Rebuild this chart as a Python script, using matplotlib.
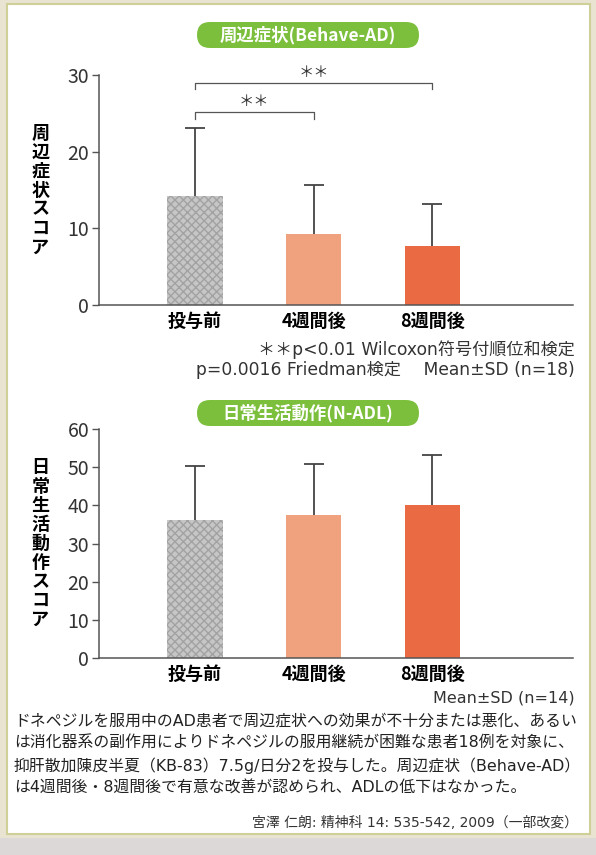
import numpy as np
import matplotlib
matplotlib.use("Agg")
import matplotlib.pyplot as plt
from matplotlib.patches import FancyBboxPatch, Rectangle

plt.rcParams['font.family'] = ['Noto Sans CJK JP', 'DejaVu Sans']
MIXED = ['DejaVu Sans', 'Noto Sans CJK JP']

# データ
groups = ['投与前', '4週間後', '8週間後']
bpsd_mean = [14.25, 9.2, 7.7]
bpsd_sd = [8.85, 6.5, 5.5]
adl_mean = [36.1, 37.5, 40.0]
adl_sd = [14.2, 13.4, 13.2]
bar_colors = ['#c6c6c6', '#f0a27e', '#ea6a44']

W, H = 596, 855
fig = plt.figure(figsize=(W / 100, H / 100), dpi=100)
fig.patch.set_facecolor('#e9e3d2')

# 背景用のピクセル座標の軸
bg = fig.add_axes([0, 0, 1, 1])
bg.set_xlim(0, W)
bg.set_ylim(H, 0)
bg.axis('off')
bg.add_patch(Rectangle((0, 838), W, 17, facecolor='#ddd8d8', edgecolor='none'))
bg.add_patch(Rectangle((7, 4), 583, 830, facecolor='white',
                       edgecolor='#cfcf98', linewidth=1.5))


def title_box(cx, cy, text):
    bg.add_patch(FancyBboxPatch((cx - 111, cy - 13), 222, 26,
                                boxstyle='round,pad=0,rounding_size=13',
                                facecolor='#7cbf3c', edgecolor='none'))
    bg.text(cx, cy, text, ha='center', va='center', color='white',
            fontsize=12.5, fontweight='bold')


title_box(308, 35, '周辺症状(Behave-AD)')
title_box(308, 413, '日常生活動作(N-ADL)')


def px_axes(left, bottom_px, width, height):
    return fig.add_axes([left / W, (H - bottom_px) / H, width / W, height / H])


def bar_panel(ax, means, sds, ymax, ylabel):
    x = np.arange(len(groups))
    bars = ax.bar(x, means, width=0.468, color=bar_colors, linewidth=0, zorder=2)
    bars[0].set_hatch('xxxx')
    bars[0].set_edgecolor('#a2a2a2')
    bars[0].set_linewidth(0)
    _, caps, _ = ax.errorbar(x, means, yerr=[np.zeros(len(sds)), sds],
                             fmt='none', ecolor='#444444', elinewidth=1.3,
                             capsize=7, capthick=1.3, zorder=3)
    caps[0].set_visible(False)
    ax.set_xlim(-0.809, 3.185)
    ax.set_ylim(0, ymax)
    ax.set_yticks(np.arange(0, ymax + 1, 10))
    ax.set_xticks(x)
    ax.set_xticklabels(groups, fontsize=13, fontweight='bold')
    ax.tick_params(axis='x', length=0, pad=5)
    ax.tick_params(axis='y', length=5, width=1, color='#555555',
                   labelsize=14, labelcolor='#333333', pad=2)
    for s in ['top', 'right']:
        ax.spines[s].set_visible(False)
    for s in ['left', 'bottom']:
        ax.spines[s].set_color('#555555')
        ax.spines[s].set_linewidth(1.1)
    ax.set_facecolor('none')
    ax.text(-0.124, 0.5, '\n'.join(ylabel), transform=ax.transAxes,
            ha='center', va='center', fontsize=13, fontweight='bold',
            linespacing=1.0)


ax1 = px_axes(99, 305, 474, 230)
bar_panel(ax1, bpsd_mean, bpsd_sd, 30, '周辺症状スコア')


# 有意差のブラケット
def bracket(ax, x0, x1, y, drop, label):
    ax.plot([x0, x0, x1, x1], [y - drop, y, y, y - drop], color='#555555',
            linewidth=0.9, clip_on=False)
    ax.text((x0 + x1) / 2, y + 0.25, label, ha='center', va='bottom',
            fontsize=11, color='#333333', clip_on=False)


bracket(ax1, 0, 1, 25.2, 1.0, '＊＊')
bracket(ax1, 0, 2, 29.0, 0.8, '＊＊')

ax2 = px_axes(99, 658, 474, 229)
bar_panel(ax2, adl_mean, adl_sd, 60, '日常生活動作スコア')

# 注記と本文
bg.text(575, 350, '＊＊p<0.01 Wilcoxon符号付順位和検定', ha='right', va='center',
        fontsize=12.3, color='#333333', family=MIXED)
bg.text(575, 370, 'p=0.0016 Friedman検定　 Mean±SD (n=18)', ha='right',
        va='center', fontsize=12.3, color='#333333', family=MIXED)
bg.text(575, 698, 'Mean±SD (n=14)', ha='right', va='center',
        fontsize=11.5, color='#333333', family=MIXED)

body = ['ドネペジルを服用中のAD患者で周辺症状への効果が不十分または悪化、あるい',
        'は消化器系の副作用によりドネペジルの服用継続が困難な患者18例を対象に、',
        '抑肝散加陳皮半夏（KB-83）7.5g/日分2を投与した。周辺症状（Behave-AD）',
        'は4週間後・8週間後で有意な改善が認められ、ADLの低下はなかった。']
for i, line in enumerate(body):
    bg.text(14, 721 + i * 22.3, line, ha='left', va='center',
            fontsize=11.4, color='#222222', family=MIXED)

bg.text(578, 823, '宮澤 仁朗: 精神科 14: 535-542, 2009（一部改変）', ha='right',
        va='center', fontsize=10, color='#333333', family=MIXED)

fig.savefig('out.png', dpi=100, facecolor=fig.get_facecolor())
